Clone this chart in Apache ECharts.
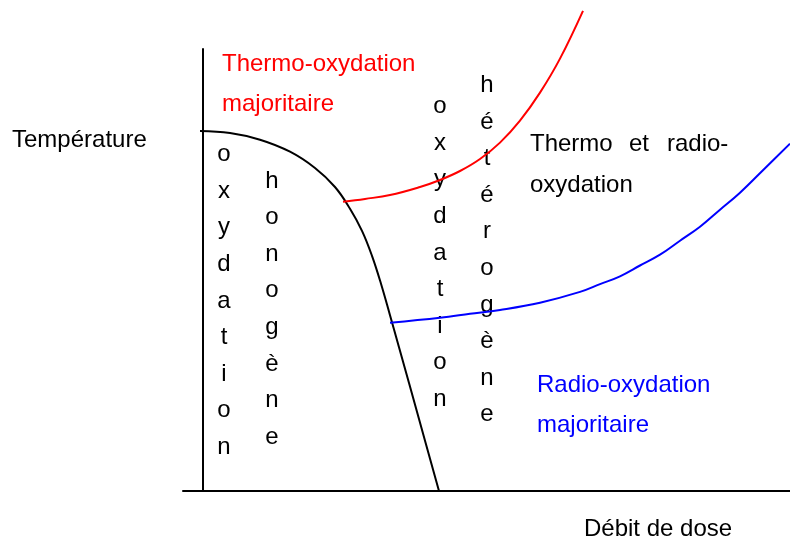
<!DOCTYPE html>
<html>
<head>
<meta charset="utf-8">
<script src="https://cdn.jsdelivr.net/npm/echarts@6/dist/echarts.min.js"></script>
<style>
html, body { margin: 0; padding: 0; background: #fff; }
#chart { width: 790px; height: 539px; }
</style>
</head>
<body>
<div id="chart"></div>
<script>
// curves (x = dose rate, y = temperature, arbitrary units)
var frontiere = [[-3, 360], [27, 357.9], [57, 351.3], [87, 339.3], [112, 323], [132, 304], [147, 282.3], [159, 260.2], [169, 235.2], [178, 207.3], [187, 175.8], [196, 143.8], [216, 72], [236, 0]];
var limiteThermo = [[140, 289.3], [162, 292.1], [187, 295.9], [217, 304], [237, 311], [257, 320], [277, 332], [297, 348.4], [317, 370.4], [337, 398.4], [357, 432.4], [380, 480.2]];
var limiteRadio = [[187, 168.3], [237, 173.3], [267, 177.2], [297, 181.1], [337, 188.3], [377, 199.1], [397, 206.9], [417, 214.7], [437, 225.5], [457, 236.3], [477, 250.3], [497, 264.3], [517, 281.3], [537, 298.3], [562, 322.8], [587, 347.3]];

var colOxyHomo = ['o', 'x', 'y', 'd', 'a', 't', 'i', 'o', 'n'];
var colHomo = ['h', 'o', 'n', 'o', 'g', 'è', 'n', 'e'];
var colOxyHetero = ['o', 'x', 'y', 'd', 'a', 't', 'i', 'o', 'n'];
var colHetero = ['h', 'é', 't', 'é', 'r', 'o', 'g', 'è', 'n', 'e'];

var police = '24px "Liberation Sans", Arial, sans-serif';

function texte(str, x, y, couleur, align) {
	return {
		type: 'text',
		x: x,
		y: y,
		style: {
			text: str,
			font: police,
			fill: couleur || '#000',
			textAlign: align || 'left',
			textVerticalAlign: 'middle'
		}
	};
}

function colonne(lettres, x, yMilieu) {
	return {
		type: 'text',
		x: x,
		y: yMilieu,
		style: {
			text: lettres.join('\n'),
			font: police,
			lineHeight: 36.6,
			fill: '#000',
			textAlign: 'center',
			textVerticalAlign: 'middle'
		}
	};
}

var myChart = echarts.init(document.getElementById('chart'));
var option = {
	animation: false,
	grid: {
		left: 183,
		right: 0,
		top: 49,
		bottom: 48
	},
	xAxis: {
		type: 'value',
		min: -20,
		max: 587,
		axisLine: { show: true, lineStyle: { color: '#000', width: 2 } },
		axisTick: { show: false },
		axisLabel: { show: false },
		splitLine: { show: false }
	},
	yAxis: {
		type: 'value',
		min: 0,
		max: 442,
		axisLine: { show: true, onZero: true, lineStyle: { color: '#000', width: 2 } },
		axisTick: { show: false },
		axisLabel: { show: false },
		splitLine: { show: false }
	},
	series: [{
		type: 'line',
		data: frontiere,
		smooth: 0.4,
		showSymbol: false,
		clip: false,
		lineStyle: { color: '#000', width: 2, join: 'round' }
	}, {
		type: 'line',
		data: limiteThermo,
		smooth: 0.4,
		showSymbol: false,
		clip: false,
		lineStyle: { color: '#ff0000', width: 2, join: 'round' }
	}, {
		type: 'line',
		data: limiteRadio,
		smooth: 0.4,
		showSymbol: false,
		clip: false,
		lineStyle: { color: '#0000ff', width: 2, join: 'round' }
	}],
	graphic: [
		texte('Température', 12, 140),
		texte('Débit de dose', 584, 529),
		texte('Thermo-oxydation', 222, 64, '#ff0000'),
		texte('majoritaire', 222, 104, '#ff0000'),
		texte('Thermo', 530, 144),
		texte('et', 629, 144),
		texte('radio-', 667, 144),
		texte('oxydation', 530, 185),
		texte('Radio-oxydation', 537, 385, '#0000ff'),
		texte('majoritaire', 537, 425, '#0000ff'),
		colonne(colOxyHomo, 224, 301),
		colonne(colHomo, 272, 309),
		colonne(colOxyHetero, 440, 253),
		colonne(colHetero, 487, 250)
	]
};
myChart.setOption(option);
</script>
</body>
</html>
